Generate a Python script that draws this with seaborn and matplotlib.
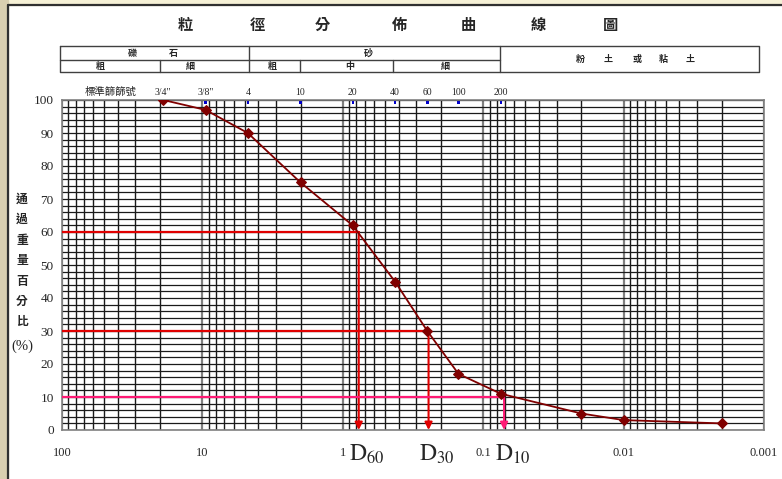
import matplotlib
matplotlib.use("Agg")
import matplotlib.pyplot as plt
import matplotlib.transforms as mtransforms
from matplotlib.ticker import LogLocator, MultipleLocator, FixedLocator, NullFormatter
from matplotlib.patches import Rectangle
import seaborn as sns

# grain size (mm) vs percent passing
grain_size = [19.0, 9.5, 4.75, 2.0, 0.85, 0.425, 0.25, 0.15, 0.075, 0.02, 0.01, 0.002]
percent_passing = [100, 97, 90, 75, 62, 45, 30, 17, 11, 5, 3, 2]

# standard sieves
sieve_labels = ['3/4"', '3/8"', '4', '10', '20', '40', '60', '100', '200']
sieve_sizes = [19.0, 9.5, 4.75, 2.0, 0.85, 0.425, 0.25, 0.15, 0.075]

# characteristic diameters
d_names = ["60", "30", "10"]
d_percent = [60, 30, 10]
d_size = [0.77, 0.245, 0.071]
d_colors = ["#E00000", "#E00000", "#FF1A75"]

x_ticks = [100, 10, 1, 0.1, 0.01, 0.001]
x_ticklabels = ["100", "10", "1", "0.1", "0.01", "0.001"]
y_ticks = list(range(0, 101, 10))

title_chars = ["粒", "徑", "分", "佈", "曲", "線", "圖"]
ylabel_chars = ["通", "過", "重", "量", "百", "分", "比"]

sns.set_style("white")
plt.rcParams["font.family"] = ["Liberation Serif", "Noto Sans CJK TC"]
plt.rcParams["mathtext.fontset"] = "stix"
cjk = ["Noto Sans CJK TC", "DejaVu Sans"]
serif = ["Liberation Serif", "Noto Sans CJK TC"]

W, H = 782, 479
fig = plt.figure(figsize=(W / 100, H / 100), dpi=100)
fig.patch.set_facecolor("white")

# overlay in pixel coordinates for frame and header table
hax = fig.add_axes([0, 0, 1, 1])
hax.set_xlim(0, W)
hax.set_ylim(H, 0)
hax.axis("off")
hax.add_patch(Rectangle((0, 0), W, 5, color="#F6F1D6", zorder=0))
hax.add_patch(Rectangle((0, 0), 8, H, color="#D9CFB0", zorder=0))
hax.plot([8, W], [5, 5], color="#303030", lw=1.6)
hax.plot([8, 8], [5, H], color="#303030", lw=1.6)

for xc, ch in zip([185, 257, 322, 400, 468, 538, 610], title_chars):
    hax.text(xc, 25, ch, ha="center", va="center", fontsize=11,
             fontweight="heavy", family=cjk)

tc = "#404040"
hax.plot([60, 759, 759, 60, 60], [46, 46, 72, 72, 46], color=tc, lw=1)
hax.plot([60, 500], [60, 60], color=tc, lw=1)
hax.plot([249, 249], [46, 72], color=tc, lw=1)
hax.plot([500, 500], [46, 72], color=tc, lw=1)
for xv in [160, 300, 393]:
    hax.plot([xv, xv], [60, 72], color=tc, lw=1)
row1 = [(132, "礫"), (173, "石"), (368, "砂")]
row2 = [(100, "粗"), (190, "細"), (272, "粗"), (350, "中"), (445, "細")]
for xc, ch in row1:
    hax.text(xc, 53, ch, ha="center", va="center", fontsize=6.5, fontweight="heavy", family=cjk)
for xc, ch in row2:
    hax.text(xc, 66, ch, ha="center", va="center", fontsize=6.5, fontweight="heavy", family=cjk)
for xc, ch in zip([580, 608, 637, 663, 690], "粉土或粘土"):
    hax.text(xc, 59, ch, ha="center", va="center", fontsize=6.5, fontweight="heavy", family=cjk)

# y label, stacked characters
for i, ch in enumerate(ylabel_chars):
    hax.text(22, 199 + i * 20.5, ch, ha="center", va="center", fontsize=8.5,
             fontweight="heavy", family=cjk)
hax.text(22, 346, "(%)", ha="center", va="center", fontsize=10.5, family=serif)

# main chart
ax = fig.add_axes([62 / W, 1 - 430 / H, 702 / W, 330 / H])
ax.set_xscale("log")
ax.set_xlim(100, 0.001)
ax.set_ylim(0, 100)

ax.xaxis.set_major_locator(FixedLocator(x_ticks))
ax.set_xticklabels(x_ticklabels)
ax.xaxis.set_minor_locator(LogLocator(base=10, subs=range(2, 10), numticks=20))
ax.xaxis.set_minor_formatter(NullFormatter())
ax.set_yticks(y_ticks)
ax.yaxis.set_minor_locator(MultipleLocator(2))

ax.grid(True, which="minor", axis="x", color="#1a1a1a", lw=1.0)
ax.grid(True, which="major", axis="x", color="#808080", lw=1.6)
ax.grid(True, which="both", axis="y", color="#1a1a1a", lw=0.9)
ax.set_axisbelow(True)

ax.tick_params(axis="both", which="major", direction="out", length=4, width=1,
               color="black", labelsize=9.5, pad=8)
ax.tick_params(axis="both", which="minor", length=0)
ax.tick_params(axis="y", pad=2)
ax.tick_params(axis="x", labelsize=9)
for lab in ax.get_xticklabels() + ax.get_yticklabels():
    lab.set_family(serif)
for s in ax.spines.values():
    s.set_color("#808080")
    s.set_linewidth(1.2)

sns.lineplot(x=grain_size, y=percent_passing, ax=ax, color="#800000", lw=1.3,
             marker="D", markersize=5.5, markeredgecolor="#800000", zorder=5)
sns.scatterplot(x=sieve_sizes, y=[99.2] * len(sieve_sizes), ax=ax, marker="s",
                s=3, color="#0000CC", edgecolor="none", zorder=4, clip_on=False)

trans = mtransforms.blended_transform_factory(ax.transData, ax.transAxes)
for sz, lab in zip(sieve_sizes, sieve_labels):
    ax.text(sz, 1.008, lab, transform=trans, ha="center", va="bottom",
            fontsize=7, family=serif)
ax.text(45, 1.008, "標準篩篩號", transform=trans, ha="center", va="bottom",
        fontsize=7.5, family=cjk)

# D60 / D30 / D10 construction lines
for name, p, d, c in zip(d_names, d_percent, d_size, d_colors):
    ax.plot([100, d], [p, p], color=c, lw=1.6, zorder=3)
    ax.annotate("", xy=(d, 0), xytext=(d, p),
                arrowprops=dict(arrowstyle="-|>", color=c, lw=1.5,
                                mutation_scale=11, shrinkA=0, shrinkB=0),
                zorder=3)
    ax.annotate(r"$\mathrm{D}_{%s}$" % name, xy=(d, 0), xytext=(6, -9),
                textcoords="offset points", ha="center", va="top",
                fontsize=17)

ax.set_xlabel("")
ax.set_ylabel("")

fig.savefig("out.png", dpi=100)
